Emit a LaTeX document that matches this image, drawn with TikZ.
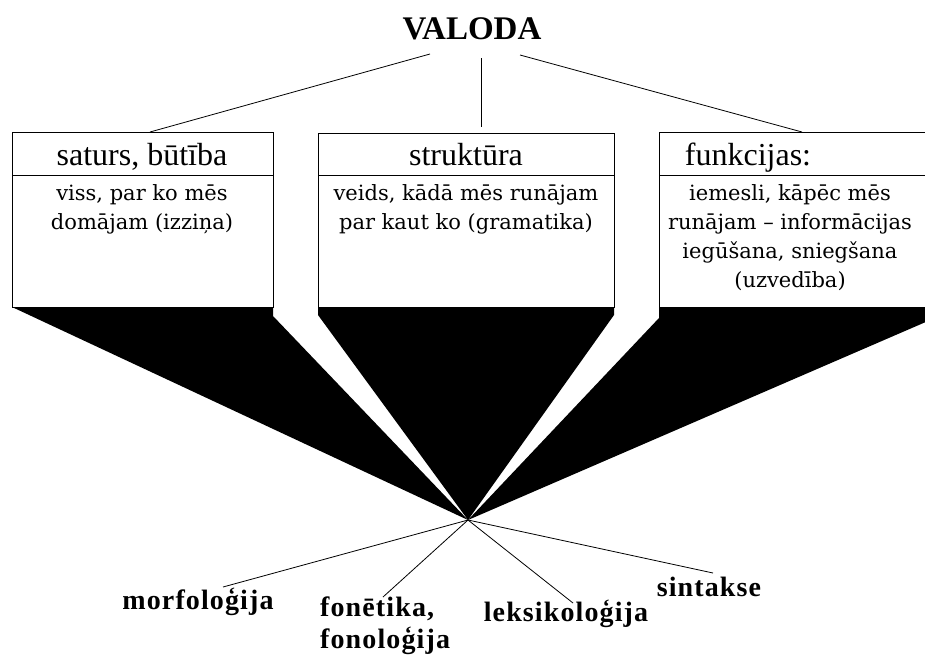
\documentclass[tikz,border=0pt]{standalone}
\usepackage{fontspec}
\setmainfont{Liberation Serif}
\newfontfamily\bodyfont{DejaVu Serif}
\begin{document}
\begin{tikzpicture}
        [
            x=1pt, y=-1pt,
            box/.style={draw=black, line width=0.9pt},
            link/.style={draw=black, line width=0.8pt},
            head/.style={font=\fontsize{32}{34}\selectfont, inner sep=0pt, anchor=base},
            body/.style={font=\bodyfont\fontsize{21}{29}\selectfont, align=center, inner sep=0pt, anchor=north},
            term/.style={font=\fontsize{28}{32}\selectfont\bfseries\addfontfeatures{LetterSpace=4}, inner sep=0pt}
        ]
        \useasboundingbox (0,0) rectangle (925,656);
        \clip (0,0) rectangle (925,656);
        % VALODA
        \node[font=\fontsize{33}{36}\selectfont\bfseries, inner sep=0pt] (valoda) at (472,29) {VALODA};
        \coordinate (v1) at (430,54);
        \coordinate (v2) at (481,58);
        \coordinate (v3) at (520,55);
        \coordinate (t1) at (150,132);
        \coordinate (t2) at (481,127);
        \coordinate (t3) at (802,132);
        \draw[link] (v1) -- (t1);
        \draw[link] (v2) -- (t2);
        \draw[link] (v3) -- (t3);
        % fan
        \coordinate (apex) at (468,520);
        \fill[black] (12,307) -- (273,307) -- (273,316) -- (apex) -- cycle;
        \fill[black] (318,307) -- (614,307) -- (614,315) -- (apex) -- (318,315) -- cycle;
        \fill[black] (659,307) -- (935,307) -- (935,318) -- (apex) -- (659,318) -- cycle;
        % saturs
        \draw[box, fill=white] (12,132) rectangle (273,307);
        \draw[box] (12,175) -- (273,175);
        \node[head] (saturs) at (142,165) {saturs, būtība};
        \node[body] (satursb) at (142,184) {viss, par ko mēs\\domājam (izziņa)};
        % struktura
        \draw[box, fill=white] (318,133) rectangle (614,307);
        \draw[box] (318,175) -- (614,175);
        \node[head] (strukt) at (466,165) {struktūra};
        \node[body] (struktb) at (466,184) {veids, kādā mēs runājam\\par kaut ko (gramatika)};
        % funkcijas
        \draw[box, fill=white] (659,132) rectangle (935,307);
        \draw[box] (659,175) -- (935,175);
        \node[head] (funk) at (748,165) {funkcijas:};
        \node[body] (funkb) at (790,184) {iemesli, kāpēc mēs\\runājam – informācijas\\iegūšana, sniegšana\\(uzvedība)};
        % nozares
        \node[term] (morf) at (198,602) {morfoloģija};
        \node[term, align=left, anchor=north west] (fon) at (320,597) {fonētika,\\fonoloģija};
        \node[term] (leks) at (566,614) {leksikoloģija};
        \node[term] (sint) at (709,587) {sintakse};
        \draw[link] (apex) -- (223,587);
        \draw[link] (apex) -- (383,597);
        \draw[link] (apex) -- (573,603);
        \draw[link] (apex) -- (713,573);
    \end{tikzpicture}
\end{document}
